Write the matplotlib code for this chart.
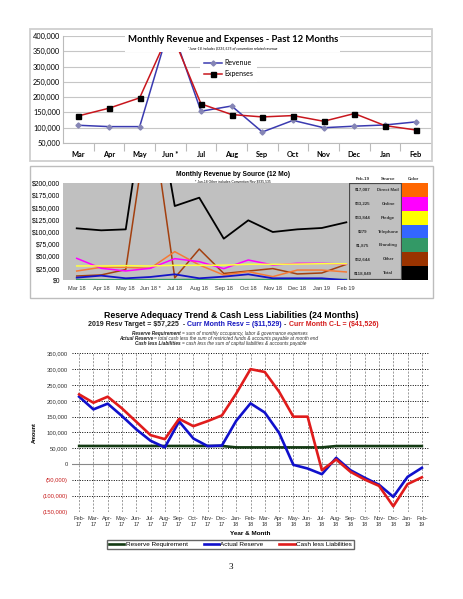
import matplotlib
matplotlib.use("Agg")
import matplotlib.pyplot as plt
from matplotlib.patches import Rectangle
from matplotlib.text import Annotation
from matplotlib.ticker import FuncFormatter, MultipleLocator

W, H = 463, 599


def fx(px):
    return px / W


def fy(py):
    return 1 - py / H


def box(x0, y0, x1, y1):
    # pixel box (top-left origin) -> figure rect
    return [fx(x0), fy(y1), fx(x1) - fx(x0), fy(y0) - fy(y1)]


# ---- panel 1 : revenue / expenses ----
months12 = ["Mar", "Apr", "May", "Jun *", "Jul", "Aug", "Sep", "Oct", "Nov", "Dec", "Jan", "Feb"]
revenue = [108000, 103600, 103600, 440000, 154000, 171000, 86000, 124000, 100000, 105000, 109000, 119000]
expenses = [138600, 163800, 197700, 420000, 178000, 143000, 135300, 139700, 121100, 146300, 106900, 92700]

# ---- panel 2 : revenue by source ----
months_src = ["Mar 18", "Apr 18", "May 18", "Jun 18 *", "Jul 18", "Aug 18", "Sep 18",
              "Oct 18", "Nov 18", "Dec 18", "Jan 19", "Feb 19"]
direct_mail = [19000, 26600, 26600, 24600, 58700, 31400, 10900, 17700, 7500, 21000, 21000, 17087]
online = [45000, 24600, 19100, 24600, 44400, 38200, 23900, 41600, 31400, 34800, 34800, 33225]
pledge = [29400, 29400, 30000, 29400, 30700, 30700, 31000, 32800, 32800, 33200, 34000, 33844]
telephone = [5500, 9600, 4100, 6800, 12300, 4100, 7500, 12300, 4100, 4100, 4100, 279]
branding = [1500, 1200, 1000, 1300, 1500, 1800, 1200, 1600, 1400, 1700, 1500, 1875]
other = [8800, 11000, 22000, 360000, 5000, 64000, 14000, 19000, 24000, 13000, 15000, 32644]
total_src = [106500, 102400, 104400, 440000, 152200, 169300, 85300, 122900, 99000, 104400, 107200, 118849]

src_names = ["Direct Mail", "Online", "Pledge", "Telephone", "Branding", "Other", "Total"]
src_feb = ["$17,087", "$33,225", "$33,844", "$279", "$1,875", "$32,644", "$118,849"]
src_colors = ["#FF6600", "#FF00FF", "#FFFF00", "#3366FF", "#339966", "#993300", "#000000"]

# ---- panel 3 : reserve adequacy ----
months24 = ["Feb-\n17", "Mar-\n17", "Apr-\n17", "May-\n17", "Jun-\n17", "Jul-\n17", "Aug-\n17",
            "Sep-\n17", "Oct-\n17", "Nov-\n17", "Dec-\n17", "Jan-\n18", "Feb-\n18", "Mar-\n18",
            "Apr-\n18", "May-\n18", "Jun-\n18", "Jul-\n18", "Aug-\n18", "Sep-\n18", "Oct-\n18",
            "Nov-\n18", "Dec-\n18", "Jan-\n19", "Feb-\n19"]
reserve_req = [57500] * 11 + [53000] * 7 + [57225] * 7
actual_reserve = [213000, 173000, 191000, 152000, 110000, 74000, 53000, 135000, 81000, 57000,
                  59000, 137000, 192000, 163000, 99000, -2000, -13700, -31600, 20000, -19000,
                  -43000, -65000, -103000, -40000, -11529]
cash_less_liab = [220300, 194000, 213000, 176000, 134000, 91700, 79000, 143000, 120000, 136000,
                  154000, 223000, 300000, 291000, 229000, 150000, 150000, -19000, 14800, -24000,
                  -48500, -68500, -133000, -63000, -41526]

fig = plt.figure(figsize=(W / 100, H / 100), dpi=100)
fig.patch.set_facecolor("white")

# frames round the two top charts
fig.patches.append(Rectangle((fx(30), fy(161)), fx(432) - fx(30), fy(29) - fy(161),
                             transform=fig.transFigure, fill=False, ec="#CFCFCF", lw=1.3, zorder=0))
fig.patches.append(Rectangle((fx(30), fy(298)), fx(433) - fx(30), fy(166) - fy(298),
                             transform=fig.transFigure, fill=False, ec="#BDBDBD", lw=1.0, zorder=0))

# ================= panel 1 =================
cal = "Lato"
ax1 = fig.add_axes(box(63, 36, 431, 143))
x12 = list(range(len(months12)))
ax1.plot(x12, revenue, color="#3A3AB0", lw=1.1, marker="D", ms=2.6,
         mfc="#8585B5", mec="#8585B5", label="Revenue", zorder=3)
ax1.plot(x12, expenses, color="#C8161D", lw=1.1, marker="s", ms=3.6,
         mfc="black", mec="black", label="Expenses", zorder=4)
ax1.set_ylim(50000, 400000)
ax1.set_xlim(-0.5, 11.5)
ax1.yaxis.set_major_locator(MultipleLocator(50000))
ax1.yaxis.set_major_formatter(FuncFormatter(lambda v, p: f"{v:,.0f}"))
ax1.grid(axis="y", color="#C6C6C6", lw=0.8)
ax1.set_axisbelow(True)
ax1.set_xticks(x12)
ax1.set_xticklabels(months12, fontweight="bold", family=cal, fontsize=5.3)
ax1.set_xticks([i - 0.5 for i in range(1, 12)], minor=True)
ax1.tick_params(axis="x", which="major", length=0, pad=6)
ax1.tick_params(axis="x", which="minor", length=6, color="#BBBBBB", width=0.8)
ax1.tick_params(axis="y", length=0, pad=2, labelsize=5.3)
for t in ax1.get_yticklabels():
    t.set_family(cal)
for s in ["top", "right"]:
    ax1.spines[s].set_visible(False)
ax1.spines["left"].set_color("#BBBBBB")
ax1.spines["bottom"].set_color("#BBBBBB")
leg1 = ax1.legend(loc="upper left", bbox_to_anchor=(fx(200), fy(55)), bbox_transform=fig.transFigure,
                  frameon=True, facecolor="white", edgecolor="none", framealpha=1, fancybox=False,
                  handlelength=2.5, labelspacing=0.6, borderpad=0.6, borderaxespad=0,
                  handletextpad=0.4, prop={"family": cal, "size": 5})

fig.patches.append(Rectangle((fx(125), fy(52)), fx(340) - fx(125), fy(33) - fy(52),
                             transform=fig.transFigure, fc="white", ec="none", zorder=5))
fig.text(fx(232.8), fy(40), "Monthly Revenue and Expenses - Past 12 Months", ha="center", va="center",
         fontsize=6.8, fontweight="bold", family=cal, zorder=6)
fig.text(fx(232.4), fy(48.7), "*June-18 includes $335,535 of convention related revenue", ha="center",
         va="center", fontsize=2.6, style="italic", family=cal, zorder=6)

# ================= panel 2 =================
ar = "Liberation Sans"
ax2 = fig.add_axes(box(63, 182.7, 349, 280.3))
ax2.set_facecolor("#C0C0C0")
xs = list(range(len(months_src)))
ax2.plot(xs, other, color="#A3400F", lw=1.1)
ax2.plot(xs, direct_mail, color="#F57A35", lw=1.1)
ax2.plot(xs, online, color="#FF00FF", lw=1.1)
ax2.plot(xs, pledge, color="#FFFF40", lw=1.1)
ax2.plot(xs, branding, color="#339966", lw=1.1)
ax2.plot(xs, telephone, color="#1414C8", lw=1.3)
ax2.plot(xs, total_src, color="black", lw=1.3)
ax2.set_ylim(0, 200000)
ax2.set_xlim(-0.56, 11.11)
ax2.yaxis.set_major_locator(MultipleLocator(25000))
ax2.yaxis.set_major_formatter(FuncFormatter(lambda v, p: f"${v:,.0f}"))
ax2.set_xticks(xs)
ax2.set_xticklabels(months_src, family=ar, fontsize=4.1, color="#333333")
ax2.tick_params(axis="x", length=0, pad=4)
ax2.tick_params(axis="y", length=0, pad=2, labelsize=4.9)
for t in ax2.get_yticklabels():
    t.set_family(ar)
for s in ax2.spines.values():
    s.set_visible(False)
fig.text(fx(232.5), fy(174.7), "Monthly Revenue by Source (12 Mo)", ha="center", va="center",
         fontsize=4.8, fontweight="bold", family=ar)
fig.text(fx(232.5), fy(181.3), "* Jun-18 Other includes Convention Rev $335,535", ha="center",
         va="center", fontsize=2.4, family=ar)

# legend table on the right
axt = fig.add_axes(box(349, 182.7, 428, 280.3))
axt.set_xlim(0, 79)
axt.set_ylim(len(src_names), 0)
axt.axis("off")
axt.add_patch(Rectangle((0, 0), 53, len(src_names), fc="#C0C0C0", ec="#4A4A4A", lw=1.6))
for i, (name, val, col) in enumerate(zip(src_names, src_feb, src_colors)):
    axt.add_patch(Rectangle((53, i), 25.5, 1, fc=col, ec="none"))
    axt.text(13.7, i + 0.5, val, ha="center", va="center", fontsize=3.2, fontweight="bold",
             family=ar, color="#333333")
    axt.text(39.3, i + 0.5, name, ha="center", va="center", fontsize=3.2, fontweight="bold",
             family=ar, color="#333333")
for hx, lab in [(362.7, "Feb-19"), (388.3, "Source"), (414, "Color")]:
    fig.text(fx(hx), fy(179.5), lab, ha="center", va="center", fontsize=3.2, fontweight="bold",
             family=ar, color="#333333")

# ================= panel 3 =================
ax3 = fig.add_axes(box(72, 353.3, 429, 511.7))
x24 = list(range(len(months24)))
l_req, = ax3.plot(x24, reserve_req, color="#133A13", lw=1.9, label="Reserve Requirement", zorder=3)
l_act, = ax3.plot(x24, actual_reserve, color="#1010CC", lw=1.9, label="Actual Reserve", zorder=4)
l_cl, = ax3.plot(x24, cash_less_liab, color="#E01C1C", lw=1.9, label="Cash less Liabilities", zorder=4)
ax3.set_ylim(-150000, 350000)
ax3.set_xlim(-0.5, 24.5)
ax3.yaxis.set_major_locator(MultipleLocator(50000))


def money(v, p):
    if v < 0:
        return f"({-v:,.0f})"
    return f"{v:,.0f}"


ax3.yaxis.set_major_formatter(FuncFormatter(money))
ax3.set_xticks(x24)
ax3.set_xticklabels(months24, family=ar, fontsize=4.1, color="#333333", linespacing=1.2)
ax3.tick_params(axis="x", length=0, pad=3)
ax3.tick_params(axis="y", length=0, pad=3, labelsize=4.2)
for t in ax3.get_yticklabels():
    t.set_family(ar)
    t.set_color("#C81E1E" if "(" in t.get_text() else "#333333")
ax3.grid(axis="y", color="black", lw=0.7, ls=(0, (1, 1.5)))
ax3.grid(axis="x", color="#777777", lw=0.5, ls=(0, (3, 2)))
ax3.axhline(0, color="#888888", lw=0.8, zorder=2)
ax3.set_axisbelow(True)
for s in ax3.spines.values():
    s.set_visible(False)
ax3.set_ylabel("Amount", family=ar, fontsize=4, fontweight="bold", labelpad=4)
ax3.set_xlabel("Year & Month", family=ar, fontsize=4.6, fontweight="bold", labelpad=3)

fig.legend(handles=[l_req, l_act, l_cl], loc="center", bbox_to_anchor=(fx(230.5), fy(544.7)),
           ncol=3, fancybox=False, edgecolor="#666666", framealpha=1, prop={"family": ar, "size": 4.6},
           handlelength=2.4, handletextpad=0.2, columnspacing=2.5, borderpad=0.3)

fig.text(fx(231), fy(315.7), "Reserve Adequacy Trend & Cash Less Liabilities (24 Months)",
         ha="center", va="center", fontsize=6.3, fontweight="bold", family=ar)


def chain(x0, y0, parts, size, gap=1.2):
    # consecutive pieces of one line, each placed after the previous one
    t = fig.text(fx(x0), fy(y0), parts[0][0], ha="left", va="bottom", fontsize=size,
                 family=ar, **parts[0][1])
    for txt, kw in parts[1:]:
        t = fig.add_artist(Annotation(
            txt, xy=(1, 0), xycoords=t, xytext=(gap, 0), textcoords="offset points",
            ha="left", va="bottom", fontsize=size, family=ar, **kw))


B = {"fontweight": "bold"}
chain(87.7, 328, [("2019 Resv Target = $57,225  -", {**B, "color": "#222222"}),
                  ("Curr Month Resv = ($11,529)", {**B, "color": "#1515C0"}),
                  ("-", {**B, "color": "#222222"}),
                  ("Curr Month C-L = ($41,526)", {**B, "color": "#D41A1A"})], 5.0, gap=1.6)
BI = {"fontweight": "bold", "style": "italic", "color": "#222222"}
IT = {"style": "italic", "color": "#333333"}
chain(132.3, 335.8, [("Reserve Requirement", BI),
                     ("= sum of monthly occupancy, labor & governance expenses", IT)], 3.4, gap=0.8)
chain(119, 340.8, [("Actual Reserve", BI),
                   ("= total cash less the sum of restricted funds & accounts payable at month end", IT)],
      3.4, gap=0.8)
chain(135, 345.8, [("Cash less Liabilities", BI),
                   ("= cash less the sum of capital liabilities & accounts payable", IT)], 3.4, gap=0.8)

fig.text(fx(231), fy(566.7), "3", ha="center", va="center", fontsize=6.5, family="Liberation Serif")

fig.savefig("out.png", dpi=100)
